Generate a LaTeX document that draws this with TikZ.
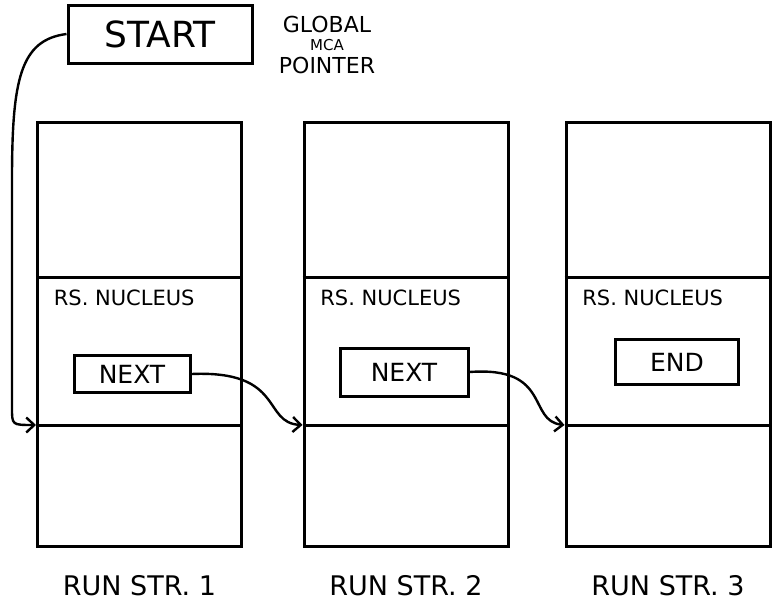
\documentclass[tikz,border=0pt]{standalone}
\usepackage{fontspec}
\setmainfont{DejaVu Sans}
\usetikzlibrary{arrows.meta}

\begin{document}
\begin{tikzpicture}[x=1pt,y=-1pt,line width=3pt,
  ptr/.style={-{Straight Barb[length=8pt,width=15pt]},line width=2.4pt},
  strbox/.style={draw,minimum width=204pt,minimum height=424pt},
  field/.style={draw,font=\fontsize{25}{25}\selectfont}]
\useasboundingbox (0,0) rectangle (772,605);

\node[draw,minimum width=184pt,minimum height=58pt,font=\fontsize{36}{36}\selectfont] (st) at (160,34) {START};
\node[align=center,font=\fontsize{22}{18}\selectfont] (gl) at (327,45)
  {GLOBAL\\{\fontsize{15}{15}\selectfont MCA}\\[5pt]POINTER};

% the three run strings
\foreach \n/\x in {1/139.5,2/406,3/668}{
  \node[strbox] (c\n) at (\x,334) {};
  \draw (c\n.west |- 0,277) -- (c\n.east |- 0,277);
  \draw (c\n.west |- 0,425) -- (c\n.east |- 0,425);
  \node[anchor=west,xshift=13pt,font=\fontsize{21}{21}\selectfont] (rs\n) at (c\n.west |- 0,298) {RS. NUCLEUS};
  \coordinate (in\n) at (c\n.west |- 0,425);
  \node[yshift=-38pt,font=\fontsize{27}{27}\selectfont] (lb\n) at (c\n.south) {RUN STR. \n};
}

\node[field,minimum width=116pt,minimum height=37pt] (nx1) at (132,374) {NEXT};
\node[field,minimum width=128pt,minimum height=48pt] (nx2) at (404,372) {NEXT};
\node[field,minimum width=123pt,minimum height=45pt] (end) at (677,362) {END};

% pointers
\draw[ptr] (st.west) .. controls (20,40) and (12,80) .. (12,180) -- (12,408) .. controls (12,425) .. (in1);
\draw[ptr] (nx1.east) .. controls (285,370) and (262,423) .. (in2);
\draw[ptr] (nx2.east) .. controls (552,366) and (527,421) .. (in3);
\end{tikzpicture}
\end{document}
